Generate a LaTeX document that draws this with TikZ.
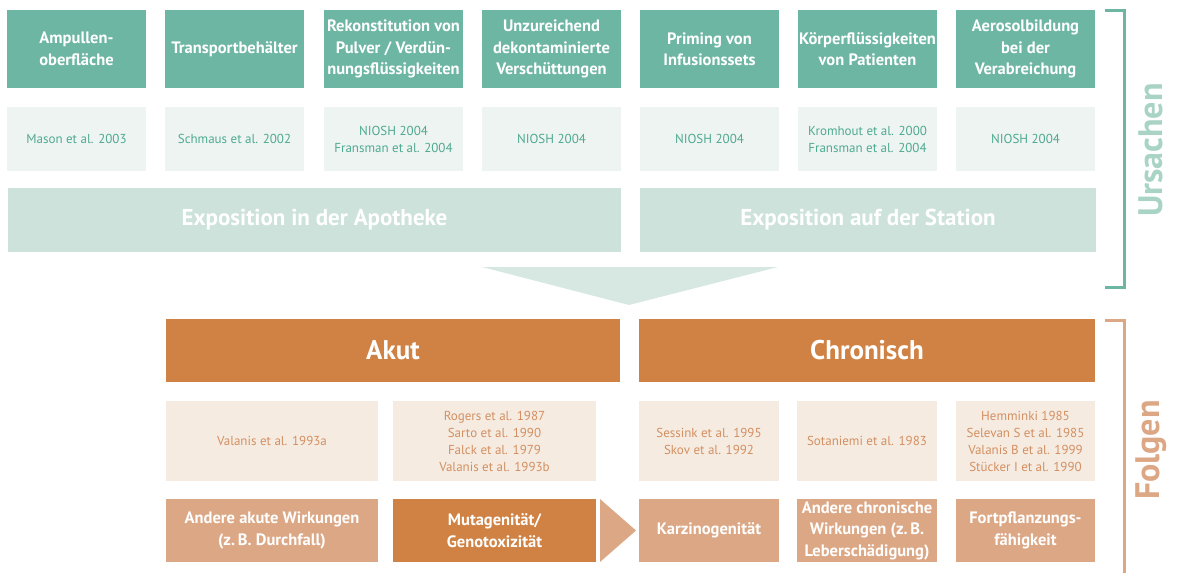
\documentclass[tikz,border=0pt]{standalone}
\usepackage{fontspec}
\setmainfont{PT Sans}
\usetikzlibrary{positioning}
\definecolor{tealdark}{HTML}{6DB6A3}
\definecolor{teallight}{HTML}{EEF4F1}
\definecolor{tealmid}{HTML}{CCE2DA}
\definecolor{tealtri}{HTML}{D6E8E1}
\definecolor{tealtext}{HTML}{4FAA90}
\definecolor{tealword}{HTML}{A9D3C5}
\definecolor{orangedark}{HTML}{CF8243}
\definecolor{orangemid}{HTML}{DCA784}
\definecolor{orangelight}{HTML}{F5EBE1}
\definecolor{orangetext}{HTML}{D39062}
\tikzset{
causebox/.style={
  rectangle, fill=tealdark, text=white,
  minimum width=139pt, minimum height=78pt,
  inner sep=0pt, align=center,
  font=\fontsize{16.5}{21.5}\selectfont\bfseries
  },
srcbox/.style={
  rectangle, fill=teallight, text=tealtext,
  minimum width=139pt, minimum height=64pt,
  inner sep=0pt, align=center,
  font=\fontsize{13}{17}\selectfont
  },
expbox/.style={
  rectangle, fill=tealmid, text=white,
  minimum height=64pt, inner sep=0pt,
  font=\fontsize{23}{27}\selectfont\bfseries
  },
kindbox/.style={
  rectangle, fill=orangedark, text=white,
  minimum height=63pt, inner sep=0pt,
  font=\fontsize{27}{30}\selectfont\bfseries
  },
litbox/.style={
  rectangle, fill=orangelight, text=orangetext,
  minimum height=80pt, inner sep=0pt, align=center,
  font=\fontsize{13}{17}\selectfont
  },
effbox/.style={
  rectangle, fill=orangemid, text=white,
  minimum height=63pt, inner sep=0pt, align=center,
  font=\fontsize{16.5}{21.5}\selectfont\bfseries
  },
sideword/.style={
  rotate=90, inner sep=0pt,
  font=\fontsize{34}{34}\selectfont\bfseries
  }
}

\begin{document}
\begin{tikzpicture}[x=1pt,y=-1pt]
\useasboundingbox (0,0) rectangle (1180,573);

% Ursachen
\node[causebox] (cause1) at (76.5,49) {Ampullen-\\oberfläche};
\node[causebox] (cause2) at (234.5,49) {Transportbehälter};
\node[causebox] (cause3) at (393.5,49) {Rekonstitution von\\Pulver / Verdün-\\nungsflüssigkeiten};
\node[causebox] (cause4) at (551.5,49) {Unzureichend\\dekontaminierte\\Verschüttungen};
\node[causebox] (cause5) at (709.5,49) {Priming von\\Infusionssets};
\node[causebox] (cause6) at (867.5,49) {Körperflüssigkeiten\\von Patienten};
\node[causebox] (cause7) at (1025.5,49) {Aerosolbildung\\bei der\\Verabreichung};

\node[srcbox] (src1) at (76.5,139) {Mason et al. 2003};
\node[srcbox] (src2) at (234.5,139) {Schmaus et al. 2002};
\node[srcbox] (src3) at (393.5,139) {NIOSH 2004\\Fransman et al. 2004};
\node[srcbox] (src4) at (551.5,139) {NIOSH 2004};
\node[srcbox] (src5) at (709.5,139) {NIOSH 2004};
\node[srcbox] (src6) at (867.5,139) {Kromhout et al. 2000\\Fransman et al. 2004};
\node[srcbox] (src7) at (1025.5,139) {NIOSH 2004};

\node[expbox, minimum width=613pt] (expApo) at (314.5,220) {Exposition in der Apotheke};
\node[expbox, minimum width=456pt] (expStat) at (868,220) {Exposition auf der Station};

\fill[tealtri] (482,267) -- (778,267) -- (629,305) -- cycle;

% Folgen
\node[kindbox, minimum width=454pt] (akut) at (393,350.5) {Akut};
\node[kindbox, minimum width=456pt] (chron) at (867,350.5) {Chronisch};

\node[litbox, minimum width=212pt] (lit1) at (272,441) {Valanis et al. 1993a};
\node[litbox, minimum width=203pt] (lit2) at (494.5,441) {Rogers et al. 1987\\Sarto et al. 1990\\Falck et al. 1979\\Valanis et al. 1993b};
\node[litbox, minimum width=140pt] (lit3) at (709,441) {Sessink et al. 1995\\Skov et al. 1992};
\node[litbox, minimum width=140pt] (lit4) at (867,441) {Sotaniemi et al. 1983};
\node[litbox, minimum width=139pt] (lit5) at (1025.5,441) {Hemminki 1985\\Selevan S et al. 1985\\Valanis B et al. 1999\\Stücker I et al. 1990};

\node[effbox, minimum width=212pt] (eff1) at (272,530.5) {Andere akute Wirkungen\\(z.\,B. Durchfall)};
\node[effbox, minimum width=203pt, fill=orangedark] (eff2) at (494.5,530.5) {Mutagenität/\\Genotoxizität};
\node[effbox, minimum width=140pt] (eff3) at (709,530.5) {Karzinogenität};
\node[effbox, minimum width=140pt] (eff4) at (867,530.5) {Andere chronische\\Wirkungen (z.\,B.\\Leberschädigung)};
\node[effbox, minimum width=139pt] (eff5) at (1025.5,530.5) {Fortpflanzungs-\\fähigkeit};

\fill[orangemid] (600,499) -- (636,530.5) -- (600,562) -- cycle;

% Klammern
\draw[tealdark, line width=3pt] (1105,10) -- (1124,10) -- (1124,287) -- (1105,287);
\node[sideword, text=tealword] (ursachen) at (1151,150) {Ursachen};
\draw[orangemid, line width=3pt] (1105,320) -- (1124,320) -- (1124,573);
\node[sideword, text=orangemid] (folgen) at (1151,450) {Folgen};
\end{tikzpicture}
\end{document}
